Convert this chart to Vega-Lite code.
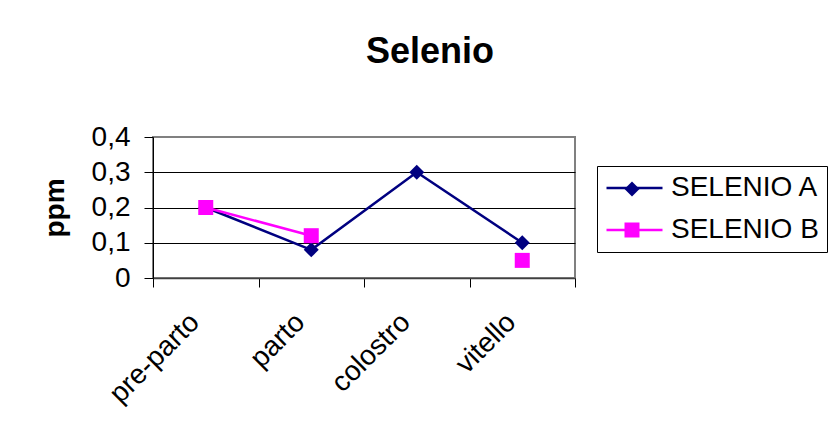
{
  "$schema": "https://vega.github.io/schema/vega-lite/v6.json",
  "width": 422,
  "height": 141,
  "autosize": {"type": "none"},
  "padding": {"left": 153, "top": 137, "right": 258, "bottom": 164},
  "background": "white",
  "title": {
    "text": "Selenio",
    "font": "Liberation Sans",
    "fontSize": 36,
    "fontWeight": "bold",
    "color": "black",
    "anchor": "middle",
    "frame": "group",
    "dx": 66,
    "offset": 24,
    "baseline": "alphabetic"
  },
  "config": {
    "font": "Liberation Sans",
    "view": {"stroke": "#808080", "strokeWidth": 2, "fill": "white"},
    "axis": {"labelFont": "Liberation Sans", "titleFont": "Liberation Sans"},
    "legend": {"labelFont": "Liberation Sans"}
  },
  "data": {
    "values": [
      {"stage": "pre-parto", "serie": "SELENIO A", "value": 0.2},
      {"stage": "parto", "serie": "SELENIO A", "value": 0.08},
      {"stage": "colostro", "serie": "SELENIO A", "value": 0.3},
      {"stage": "vitello", "serie": "SELENIO A", "value": 0.1},
      {"stage": "pre-parto", "serie": "SELENIO B", "value": 0.2},
      {"stage": "parto", "serie": "SELENIO B", "value": 0.12},
      {"stage": "colostro", "serie": "SELENIO B", "value": null},
      {"stage": "vitello", "serie": "SELENIO B", "value": 0.05}
    ]
  },
  "encoding": {
    "x": {
      "field": "stage",
      "type": "nominal",
      "sort": ["pre-parto", "parto", "colostro", "vitello"],
      "scale": {"type": "band", "paddingInner": 0, "paddingOuter": 0},
      "axis": {
        "title": null,
        "labelAngle": -45,
        "labelAlign": "right",
        "labelBaseline": "top",
        "labelFontSize": 28,
        "labelColor": "black",
        "labelPadding": 21,
        "labelOffset": -21,
        "tickBand": "extent",
        "tickSize": 9,
        "tickColor": "black",
        "domainColor": "#404040",
        "domainWidth": 1.5,
        "grid": false
      }
    },
    "y": {
      "field": "value",
      "type": "quantitative",
      "scale": {"domain": [0, 0.4], "nice": false},
      "axis": {
        "title": "ppm",
        "titleFontSize": 28,
        "titleFontWeight": "bold",
        "titleColor": "black",
        "titlePadding": 22,
        "labelFontSize": 28,
        "labelColor": "black",
        "labelPadding": 14,
        "labelOverlap": false,
        "tickSize": 9,
        "tickColor": "black",
        "domainColor": "black",
        "values": [0, 0.1, 0.2, 0.3, 0.4],
        "labelExpr": "datum.value == 0 ? '0' : replace(format(datum.value, '.1f'), '.', ',')",
        "gridColor": {"condition": {"test": "datum.value > 0.35 || datum.value < 0.05", "value": "#808080"}, "value": "black"},
        "gridOpacity": 1,
        "gridWidth": 1
      }
    }
  },
  "layer": [
    {
      "mark": {"type": "line", "strokeWidth": 2.5},
      "encoding": {
        "stroke": {
          "field": "serie",
          "type": "nominal",
          "scale": {"domain": ["SELENIO A", "SELENIO B"], "range": ["#000080", "#FF00FF"]},
          "legend": {
            "title": null,
            "orient": "none",
            "legendX": 444,
            "legendY": 29,
            "strokeColor": "black",
            "padding": 8,
            "labelFontSize": 28,
            "labelColor": "black",
            "labelOffset": 7,
            "rowPadding": 14,
            "clipHeight": 28,
            "symbolType": "stroke",
            "symbolSize": 3136,
            "symbolStrokeWidth": 2.5
          }
        }
      }
    },
    {
      "transform": [{"filter": "datum.value != null"}],
      "mark": {"type": "point", "filled": true, "size": 225, "opacity": 1},
      "encoding": {
        "fill": {
          "field": "serie",
          "type": "nominal",
          "scale": {"range": ["#000080", "#FF00FF"]},
          "legend": {
            "title": null,
            "orient": "none",
            "legendX": 465,
            "legendY": 38,
            "padding": 0,
            "labelFontSize": 28,
            "labelExpr": "''",
            "rowPadding": 13,
            "symbolSize": 225,
            "symbolStrokeWidth": 0
          }
        },
        "shape": {
          "field": "serie",
          "type": "nominal",
          "scale": {"range": ["diamond", "square"]},
          "legend": {
            "title": null,
            "orient": "none",
            "legendX": 465,
            "legendY": 38,
            "padding": 0,
            "labelFontSize": 28,
            "labelExpr": "''",
            "rowPadding": 13,
            "symbolSize": 225,
            "symbolStrokeWidth": 0
          }
        }
      }
    }
  ]
}
